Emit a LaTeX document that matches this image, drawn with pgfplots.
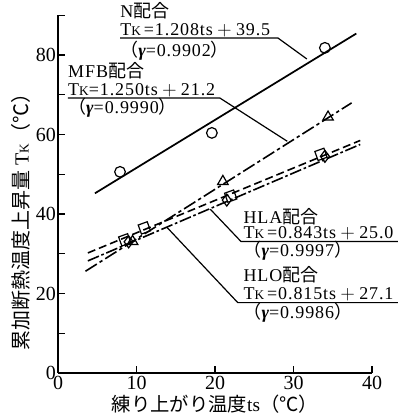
\documentclass[border=0pt]{standalone}
\usepackage{pgfplots}
\pgfplotsset{compat=1.18}
\usepackage{fontspec}
\setmainfont{Liberation Serif}
\newfontfamily\jp{Noto Sans CJK JP}
\newcommand\TK{T{\fontsize{10}{10}\selectfont K}}
\newcommand\lab{\fontsize{13.5}{14}\selectfont\addfontfeatures{LetterSpace=5}}
\newcommand\gam[1]{{\jp （}{\bfseries\itshape γ}=#1{\jp ）}}
\begin{document}
\begin{tikzpicture}
\begin{axis}[
  scale only axis, width=235.5pt, height=268.3pt,
  xmin=0, xmax=40, ymin=0, ymax=90,
  axis lines=left, axis line style={line width=1.3pt, -},
  tick align=inside,
  xtick={0,10,20,30,40}, ytick={0,10,...,90},
  yticklabels={0,,20,,40,,60,,80,},
  tick style={line width=1pt, black}, major tick length=5pt,
  tick label style={font=\fontsize{15}{15}\selectfont},
  xticklabel style={yshift=1pt},
  yticklabel style={xshift=2pt},
  /pgf/number format/assume math mode=true,
  clip=false,
  xlabel={{\jp 練り上がり温度}ts{\jp （℃）}},
  xlabel style={at={(axis description cs:0.5,-0.088)}, anchor=center, font=\fontsize{14.5}{14.5}\selectfont},
  ylabel={{\jp 累加断熱温度上昇量} \TK{\jp （℃）}},
  ylabel style={at={(axis description cs:-0.118,0.436)}, anchor=center, rotate=0, font=\fontsize{15}{15}\selectfont},
]
% invisible frame for picture size
\coordinate (bl) at (axis cs:-7.39,-10.57);
\coordinate (tr) at (axis cs:43.82,93.84);

% regression lines
\addplot[black, line width=1.3pt] coordinates {(4.7,45.2) (38,85.4)};
\addplot[black, line width=1.2pt, dash pattern=on 10pt off 2.5pt on 2.5pt off 2.5pt] coordinates {(3.5,25.6) (37.4,67.95)};
\addplot[black, line width=1.2pt, dash pattern=on 9pt off 2pt on 2pt off 2pt] coordinates {(3.8,28.2) (38.5,57.5)};
\addplot[black, line width=1.2pt, dash pattern=on 6pt off 3pt] coordinates {(3.8,30.2) (38.5,58.5)};

% data points
\addplot[only marks, mark=o, mark size=4pt, line width=0.9pt, mark options={fill=white}] coordinates {(7.9,50.6) (19.6,60.4) (34,81.8)};
\addplot[only marks, mark=triangle, mark size=4.5pt, line width=0.9pt, mark options={rotate=120, fill=white}] coordinates {(9.5,33.1) (21,48.2) (34.4,64.4)};
\addplot[only marks, mark=diamond, mark size=4.5pt, line width=0.9pt, mark options={fill=white}] coordinates {(9,33) (21.5,43.5) (34,54.5)};
\addplot[only marks, mark=square, mark size=3.6pt, line width=0.9pt, mark options={rotate=20, fill=white}] coordinates {(8.5,33.5) (11,36.5) (22,44.5) (33.5,55)};

% N label
\node[anchor=base west, inner sep=0, font=\lab] at (axis cs:7.9,89.4) {N{\jp 配合}};
\node[anchor=base west, inner sep=0, font=\lab] at (axis cs:7.9,85.0) {\TK\,=1.208ts${}+{}$39.5};
\node[anchor=base west, inner sep=0, font=\lab] at (axis cs:7.9,79.7) {\gam{0.9902}};
\draw[line width=0.9pt] (axis cs:7.9,84.3) -- (axis cs:28,84.3) -- (axis cs:31.7,79);

% MFB label
\node[anchor=base west, inner sep=0, font=\lab] at (axis cs:1.27,74.3) {MFB{\jp 配合}};
\node[anchor=base west, inner sep=0, font=\lab] at (axis cs:1.27,69.9) {\TK=1.250ts${}+{}$21.2};
\node[anchor=base west, inner sep=0, font=\lab] at (axis cs:1.27,65.3) {\gam{0.9990}};
\draw[line width=0.9pt] (axis cs:1.27,69.2) -- (axis cs:20.6,69.2) -- (axis cs:29.2,58.3);

% HLA label
\node[anchor=base west, inner sep=0, font=\lab] at (axis cs:23.6,37.7) {HLA{\jp 配合}};
\node[anchor=base west, inner sep=0, font=\lab] at (axis cs:23.6,33.8) {\TK\,=0.843ts${}+{}$25.0};
\node[anchor=base west, inner sep=0, font=\lab] at (axis cs:23.6,29.4) {\gam{0.9997}};
\draw[line width=0.9pt] (axis cs:43.3,33.1) -- (axis cs:23.3,33.1) -- (axis cs:19.4,41.2);

% HLO label
\node[anchor=base west, inner sep=0, font=\lab] at (axis cs:23.6,23.0) {HLO{\jp 配合}};
\node[anchor=base west, inner sep=0, font=\lab] at (axis cs:23.6,18.4) {\TK\,=0.815ts${}+{}$27.1};
\node[anchor=base west, inner sep=0, font=\lab] at (axis cs:23.6,13.7) {\gam{0.9986}};
\draw[line width=0.9pt] (axis cs:43.3,17.7) -- (axis cs:22.9,17.7) -- (axis cs:13.9,36.6);
\end{axis}
\pgfresetboundingbox
\path[use as bounding box] (bl) rectangle (tr);
\end{tikzpicture}
\end{document}
